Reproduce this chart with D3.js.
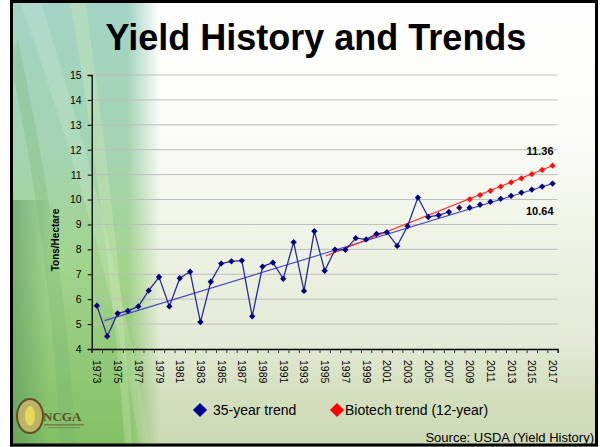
<!DOCTYPE html>
<html>
<head>
<meta charset="utf-8">
<script src="https://cdn.jsdelivr.net/npm/d3@7"></script>
<style>
  html, body { margin: 0; padding: 0; background: #fff; }
  svg { display: block; font-family: Arial, "Liberation Sans", sans-serif; }
</style>
</head>
<body>
<svg id="chart" width="600" height="447"></svg>
<script>
// ---------- DATA ----------
const years = d3.range(1973, 2018);
const actualYears = d3.range(1973, 2008);
const actualYield = [5.74, 4.51, 5.43, 5.53, 5.71, 6.34, 6.89, 5.71, 6.84, 7.10,
                     5.08, 6.70, 7.43, 7.52, 7.55, 5.31, 7.31, 7.47, 6.82, 8.29,
                     6.33, 8.73, 7.14, 7.99, 7.98, 8.45, 8.40, 8.62, 8.69, 8.14,
                     8.93, 10.08, 9.30, 9.37, 9.50];
const extraYears = [2008];
const extraYield = [9.67];
const projYears = d3.range(2009, 2018);
const trend35Proj = [9.67, 9.79, 9.91, 10.03, 10.15, 10.28, 10.40, 10.52, 10.64];
const biotechProj = [10.01, 10.18, 10.35, 10.52, 10.69, 10.85, 11.02, 11.19, 11.36];
const trend35LineYears = [1973.75, 2017];
const trend35LineValues = [5.14, 10.64];
const biotechLineYears = [1995.1, 2017];
const biotechLineValues = [7.73, 11.36];
const yTicks = d3.range(4, 16);
const xLabelYears = d3.range(1973, 2018, 2);
const endLabels = [{ year: 2017, value: 11.36, text: "11.36" }, { year: 2017, value: 10.64, text: "10.64" }];
const legendItems = ["35-year trend", "Biotech trend (12-year)"];
const titleText = "Yield History and Trends";
const yAxisTitle = "Tons/Hectare";
const sourceText = "Source: USDA (Yield History)";

// ---------- SETUP ----------
const svg = d3.select("#chart");
const defs = svg.append("defs");

const bgGrad = defs.append("linearGradient").attr("id", "bgGrad").attr("x1", 0).attr("y1", 0).attr("x2", 0).attr("y2", 1);
bgGrad.append("stop").attr("offset", "0").attr("stop-color", "#ffffff");
bgGrad.append("stop").attr("offset", "0.3").attr("stop-color", "#fbfcf8");
bgGrad.append("stop").attr("offset", "0.78").attr("stop-color", "#e2e9d3");
bgGrad.append("stop").attr("offset", "0.88").attr("stop-color", "#d3debd");
bgGrad.append("stop").attr("offset", "1").attr("stop-color", "#cddab6");

const leafGrad = defs.append("linearGradient").attr("id", "leafGrad").attr("x1", 0).attr("y1", 0).attr("x2", 0).attr("y2", 1);
leafGrad.append("stop").attr("offset", "0").attr("stop-color", "#a3d3c6");
leafGrad.append("stop").attr("offset", "0.35").attr("stop-color", "#a4d4b0");
leafGrad.append("stop").attr("offset", "0.6").attr("stop-color", "#a2d48c");
leafGrad.append("stop").attr("offset", "1").attr("stop-color", "#82bf66");

const fadeGrad = defs.append("linearGradient").attr("id", "fadeGrad").attr("x1", 0).attr("y1", 0).attr("x2", 1).attr("y2", 0);
fadeGrad.append("stop").attr("offset", "0").attr("stop-color", "#fff").attr("stop-opacity", 1);
fadeGrad.append("stop").attr("offset", "0.8").attr("stop-color", "#fff").attr("stop-opacity", 1);
fadeGrad.append("stop").attr("offset", "1").attr("stop-color", "#fff").attr("stop-opacity", 0);
const mask = defs.append("mask").attr("id", "leafMask");
mask.append("rect").attr("x", 0).attr("y", 0).attr("width", 160).attr("height", 447).attr("fill", "url(#fadeGrad)");

const edgeGrad = defs.append("linearGradient").attr("id", "edgeGrad").attr("x1", 0).attr("y1", 0).attr("x2", 1).attr("y2", 0);
edgeGrad.append("stop").attr("offset", "0").attr("stop-color", "#4f8f52").attr("stop-opacity", 0.55);
edgeGrad.append("stop").attr("offset", "1").attr("stop-color", "#4f8f52").attr("stop-opacity", 0);

// background
svg.append("rect").attr("x", 10).attr("y", 0).attr("width", 588).attr("height", 447).attr("fill", "url(#bgGrad)");
const leaf = svg.append("g").attr("mask", "url(#leafMask)");
leaf.append("rect").attr("x", 10).attr("y", 0).attr("width", 150).attr("height", 447).attr("fill", "url(#leafGrad)");
leaf.append("rect").attr("x", 10).attr("y", 200).attr("width", 40).attr("height", 247).attr("fill", "url(#edgeGrad)");
// light streaks
leaf.append("path").attr("d", "M20,0 C60,120 110,260 140,447 L150,447 C120,260 75,110 40,0 Z").attr("fill", "#ffffff").attr("opacity", 0.14);
leaf.append("path").attr("d", "M70,0 C95,150 115,300 125,447 L132,447 C125,300 105,140 85,0 Z").attr("fill", "#d8f0b8").attr("opacity", 0.3);
leaf.append("path").attr("d", "M10,60 C40,200 55,330 60,447 L75,447 C70,320 50,190 18,40 Z").attr("fill", "#6fae6a").attr("opacity", 0.25);

// logo
const logo = svg.append("g");
logo.append("ellipse").attr("cx", 30).attr("cy", 416).attr("rx", 13).attr("ry", 17).attr("fill", "#b9b46a").attr("stroke", "#5d5124").attr("stroke-width", 2);
logo.append("ellipse").attr("cx", 30).attr("cy", 416).attr("rx", 5).attr("ry", 10).attr("fill", "#e8d85a");
logo.append("text").attr("x", 43).attr("y", 421).attr("font-family", "'Liberation Serif', 'DejaVu Serif', serif").attr("font-weight", "bold").attr("font-size", 13).attr("fill", "#5a5022").text("NCGA");
logo.append("rect").attr("x", 44).attr("y", 424).attr("width", 40).attr("height", 1.5).attr("fill", "#6d6535").attr("opacity", 0.7);
logo.append("rect").attr("x", 48).attr("y", 427).attr("width", 32).attr("height", 1.2).attr("fill", "#6d6535").attr("opacity", 0.5);

// title
svg.append("text").attr("x", 316).attr("y", 50).attr("text-anchor", "middle").attr("font-size", 36).attr("font-weight", "bold").attr("fill", "#000").text(titleText);

// ---------- SCALES ----------
const x0 = 91.7, x1 = 557.7;
const xLin = d3.scaleLinear().domain([1972.5, 2017.5]).range([x0, x1]);
const y = d3.scaleLinear().domain([4, 15]).range([349, 75]);

// gridlines
svg.append("g").selectAll("line").data(yTicks.filter(d => d > 4)).join("line")
  .attr("x1", x0).attr("x2", x1).attr("y1", d => y(d)).attr("y2", d => y(d))
  .attr("stroke", "#bdbdbd").attr("stroke-width", 1);

// y axis
const yAxis = svg.append("g").attr("transform", `translate(${x0},0)`)
  .call(d3.axisLeft(y).tickValues(yTicks).tickSize(4).tickPadding(6).tickFormat(d3.format("d")));
yAxis.select(".domain").attr("stroke", "#000").attr("stroke-width", 1.3);
yAxis.selectAll(".tick line").attr("stroke", "#000");
yAxis.selectAll("text").attr("font-size", 10.5).attr("fill", "#000").attr("font-family", "Arial, 'Liberation Sans', sans-serif");

// x axis (ticks at boundaries)
const xAxisTicks = svg.append("g").attr("transform", "translate(0,349)")
  .call(d3.axisBottom(xLin).tickValues(d3.range(1972.5, 2018, 1)).tickSize(4).tickFormat(""));
xAxisTicks.select(".domain").attr("stroke", "#000").attr("stroke-width", 1.3);
xAxisTicks.selectAll(".tick line").attr("stroke", "#333");

// x labels
const xAxisLabels = svg.append("g").attr("transform", "translate(0,349)")
  .call(d3.axisBottom(xLin).tickValues(xLabelYears).tickSize(0).tickPadding(0).tickFormat(d3.format("d")));
xAxisLabels.select(".domain").remove();
xAxisLabels.selectAll("text")
  .attr("font-size", 10.5).attr("fill", "#000").attr("font-family", "Arial, 'Liberation Sans', sans-serif")
  .attr("text-anchor", "start").attr("dy", null).attr("y", 0)
  .attr("dominant-baseline", "central")
  .attr("transform", "translate(0,11) rotate(90)");

// y title
svg.append("text").attr("transform", "translate(59,240) rotate(-90)").attr("text-anchor", "middle")
  .attr("font-size", 10).attr("font-weight", "bold").attr("fill", "#000").text(yAxisTitle);

// ---------- MARKS ----------
const line = d3.line().x(d => xLin(d[0])).y(d => y(d[1]));
const diamond = d3.symbol().type(d3.symbolSquare).size(20);

// trend lines
svg.append("path").datum(d3.zip(trend35LineYears, trend35LineValues)).attr("d", line)
  .attr("fill", "none").attr("stroke", "#4848c0").attr("stroke-width", 1.1);
svg.append("path").datum(d3.zip(biotechLineYears, biotechLineValues)).attr("d", line)
  .attr("fill", "none").attr("stroke", "#ff2a2a").attr("stroke-width", 1.1);

// actual yield
svg.append("path").datum(d3.zip(actualYears, actualYield)).attr("d", line)
  .attr("fill", "none").attr("stroke", "#2a2a98").attr("stroke-width", 1.3);
svg.append("g").selectAll("path").data(d3.zip(actualYears, actualYield)).join("path")
  .attr("d", diamond).attr("transform", d => `translate(${xLin(d[0])},${y(d[1])}) rotate(45)`)
  .attr("fill", "#000080");
svg.append("g").selectAll("path").data(d3.zip(extraYears, extraYield)).join("path")
  .attr("d", diamond).attr("transform", d => `translate(${xLin(d[0])},${y(d[1])}) rotate(45)`)
  .attr("fill", "#3a0f52");

// projections
svg.append("g").selectAll("path").data(d3.zip(projYears, trend35Proj)).join("path")
  .attr("d", diamond).attr("transform", d => `translate(${xLin(d[0])},${y(d[1])}) rotate(45)`)
  .attr("fill", "#000080");
svg.append("g").selectAll("path").data(d3.zip(projYears, biotechProj)).join("path")
  .attr("d", diamond).attr("transform", d => `translate(${xLin(d[0])},${y(d[1])}) rotate(45)`)
  .attr("fill", "#ff1010");

// end labels
const lbl = svg.append("g").selectAll("g").data(endLabels).join("g");
lbl.append("text").attr("x", d => xLin(d.year) + 1).attr("y", (d, i) => i === 0 ? y(d.value) - 11 : y(d.value) + 31)
  .attr("text-anchor", "end").attr("font-size", 11).attr("font-weight", "bold").attr("fill", "#000")
  .text(d => d.text);

// ---------- LEGEND ----------
const legendColors = ["#000099", "#ff0000"];
const legendX = [200, 337];
const legendDiamond = d3.symbol().type(d3.symbolSquare).size(100);
const lg = svg.append("g").selectAll("g").data(legendItems).join("g")
  .attr("transform", (d, i) => `translate(${legendX[i]},410)`);
lg.append("path").attr("d", legendDiamond).attr("transform", "rotate(45)").attr("fill", (d, i) => legendColors[i]);
lg.append("text").attr("x", (d, i) => i === 0 ? 13 : 8).attr("y", 5).attr("font-size", 14).attr("fill", "#000").text(d => d);

// source
svg.append("text").attr("x", 594).attr("y", 442).attr("text-anchor", "end").attr("font-size", 13).attr("fill", "#000").text(sourceText);

// border
svg.append("rect").attr("x", 11.5).attr("y", 1.5).attr("width", 585).attr("height", 443.5)
  .attr("fill", "none").attr("stroke", "#000").attr("stroke-width", 3);
</script>
</body>
</html>
